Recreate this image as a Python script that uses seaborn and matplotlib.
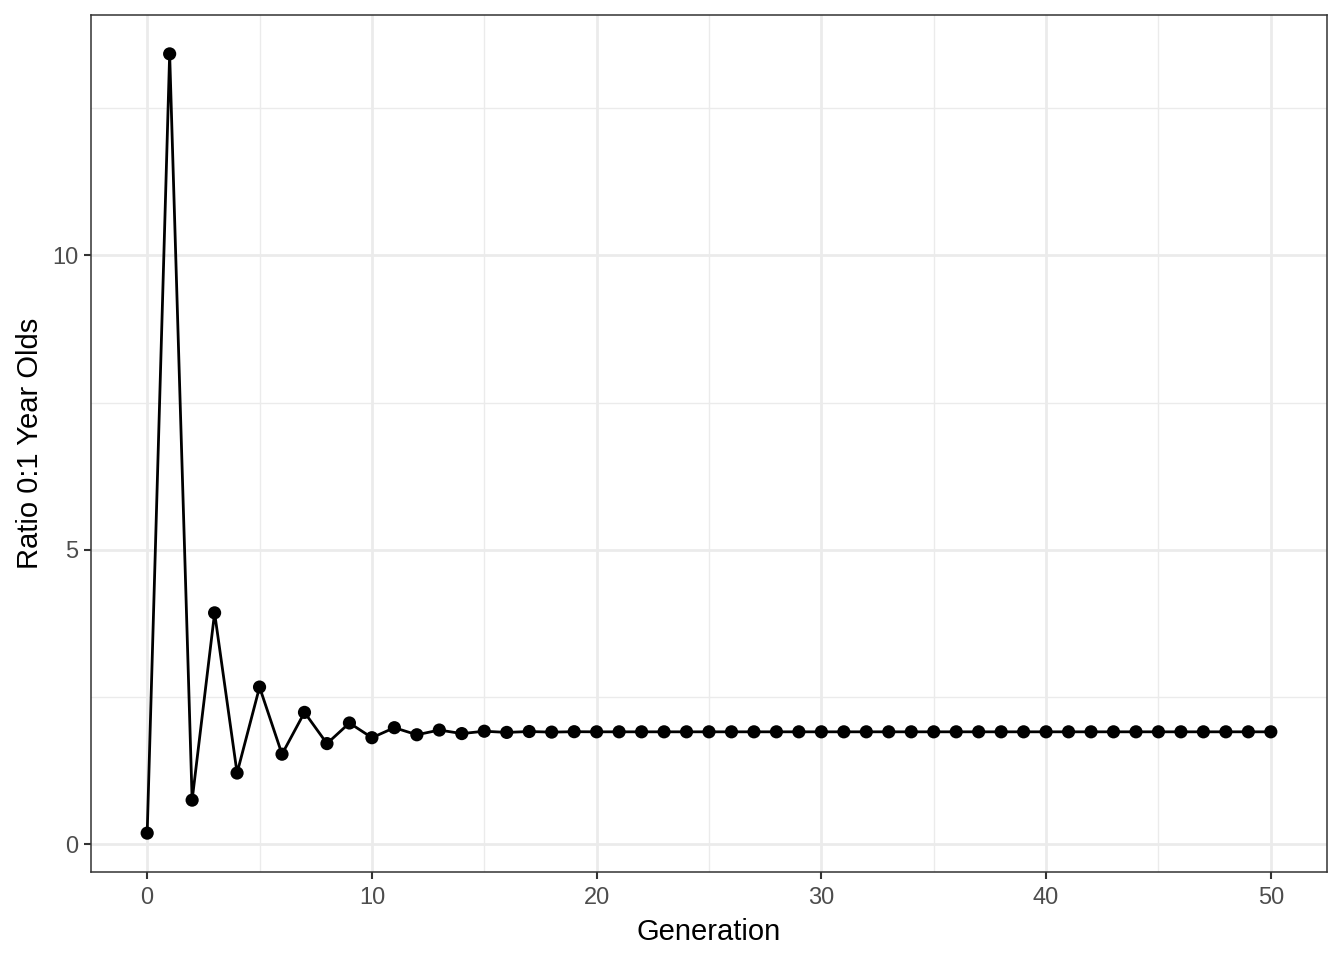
import numpy as np
import pandas as pd
import seaborn as sns
import matplotlib.pyplot as plt
from matplotlib.ticker import MultipleLocator

# ratio of 0 to 1 year olds by generation
generation = list(range(51))
ratio = [0.19, 13.42, 0.75, 3.93, 1.21, 2.67, 1.53, 2.24, 1.71, 2.06,
         1.81, 1.98, 1.86, 1.94, 1.88, 1.92, 1.90, 1.915, 1.905, 1.912,
         1.91, 1.91, 1.91, 1.91, 1.91, 1.91, 1.91, 1.91, 1.91, 1.91,
         1.91, 1.91, 1.91, 1.91, 1.91, 1.91, 1.91, 1.91, 1.91, 1.91,
         1.91, 1.91, 1.91, 1.91, 1.91, 1.91, 1.91, 1.91, 1.91, 1.91,
         1.91]

df = pd.DataFrame({"Generation": generation, "Ratio": ratio})

sns.set_style("white")
plt.rcParams['font.family'] = ['Liberation Sans', 'DejaVu Sans']

fig = plt.figure(figsize=(13.44, 9.6), dpi=100)
ax = fig.add_axes([91/1344, 1 - 872/960, (1327-91)/1344, (872-15)/960])

sns.lineplot(data=df, x="Generation", y="Ratio", color="black", linewidth=2, ax=ax, zorder=3)
sns.scatterplot(data=df, x="Generation", y="Ratio", color="black", s=90, edgecolor="none", ax=ax, zorder=4)

ax.set_xlim(-2.5, 52.5)
ax.set_ylim(-0.47, 14.08)
ax.xaxis.set_major_locator(MultipleLocator(10))
ax.xaxis.set_minor_locator(MultipleLocator(5))
ax.yaxis.set_major_locator(MultipleLocator(5))
ax.yaxis.set_minor_locator(MultipleLocator(2.5))
ax.grid(which="major", color="#EBEBEB", linewidth=2, zorder=0)
ax.grid(which="minor", color="#EBEBEB", linewidth=1, zorder=0)
ax.set_axisbelow(True)

for s in ax.spines.values():
    s.set_color("#333333")
    s.set_linewidth(1.1)

ax.tick_params(which="major", length=5, width=1.5, color="#333333", labelsize=17, labelcolor="#4D4D4D", pad=4,
               bottom=True, left=True)
ax.tick_params(axis="x", which="major", pad=6)
ax.tick_params(which="minor", length=0)
ax.set_xlabel("Generation", fontsize=21, color="black", labelpad=6)
ax.set_ylabel("Ratio 0:1 Year Olds", fontsize=21, color="black", labelpad=6)

fig.savefig("out.png", dpi=100)
